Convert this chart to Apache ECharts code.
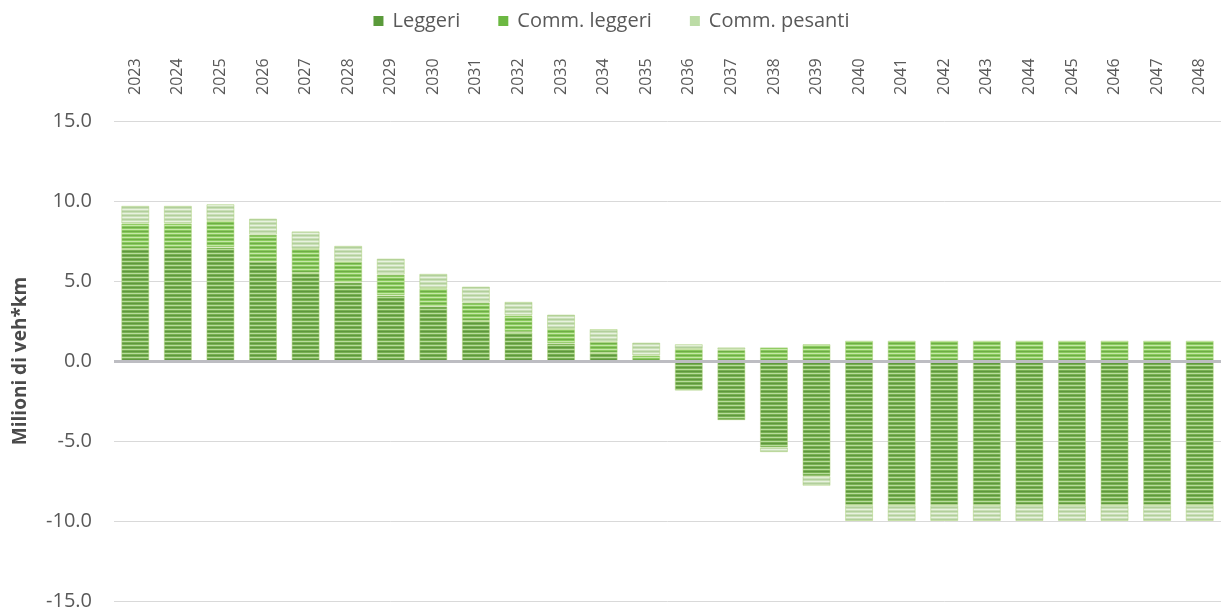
<!DOCTYPE html>
<html>
<head>
<meta charset="utf-8">
<script src="https://cdn.jsdelivr.net/npm/echarts@6/dist/echarts.min.js"></script>
<style>
  html, body { margin: 0; padding: 0; background: #ffffff; }
  #chart { width: 1223px; height: 613px; }
</style>
</head>
<body>
<div id="chart"></div>
<script>
// Years on the category axis
const years = ['2023','2024','2025','2026','2027','2028','2029','2030','2031','2032','2033','2034','2035',
               '2036','2037','2038','2039','2040','2041','2042','2043','2044','2045','2046','2047','2048'];

// Differences in vehicle-km (millions) by vehicle class
const leggeri = [7.0, 7.0, 7.1, 6.2, 5.5, 4.9, 4.1, 3.4, 2.5, 1.8, 1.1, 0.5, 0.0,
                 -1.85, -3.7, -5.4, -7.2, -9.0, -9.0, -9.0, -9.0, -9.0, -9.0, -9.0, -9.0, -9.0];
const commLeggeri = [1.6, 1.6, 1.65, 1.7, 1.5, 1.3, 1.3, 1.15, 1.15, 1.05, 0.9, 0.7, 0.35,
                     0.75, 0.7, 0.85, 1.05, 1.27, 1.27, 1.27, 1.27, 1.27, 1.27, 1.27, 1.27, 1.27];
const commPesanti = [1.1, 1.1, 1.05, 1.0, 1.1, 1.0, 1.0, 0.9, 1.0, 0.85, 0.9, 0.8, 0.8,
                     0.3, 0.15, -0.3, -0.6, -1.0, -1.0, -1.0, -1.0, -1.0, -1.0, -1.0, -1.0, -1.0];

// Value axis ticks
const yMin = -15, yMax = 15, yStep = 5;

// Horizontal-stripe fill used for the bars
function stripes(base, light, dark) {
  const c = document.createElement('canvas');
  c.width = 4; c.height = 4;
  const g = c.getContext('2d');
  g.fillStyle = base;  g.fillRect(0, 0, 4, 4);
  g.fillStyle = light; g.fillRect(0, 1, 4, 1);
  g.fillStyle = dark;  g.fillRect(0, 3, 4, 1);
  return { image: c, repeat: 'repeat' };
}

const FONT = '"Open Sans", "DejaVu Sans", sans-serif';
const TXT = '#595959';

const palette = [
  { name: 'Leggeri',       data: leggeri,     legend: '#5a9a3a', fill: stripes('#78b152', '#b8dc9c', '#5f973f') },
  { name: 'Comm. leggeri', data: commLeggeri, legend: '#6cb842', fill: stripes('#8acb5e', '#c6e8a8', '#6fad48') },
  { name: 'Comm. pesanti', data: commPesanti, legend: '#bcdca6', fill: stripes('#c9dfb7', '#e8f2df', '#b2cf9c') }
];

const series = palette.map((p, i) => {
  const s = {
    name: p.name,
    type: 'bar',
    stack: 'total',
    barWidth: 28,
    data: p.data,
    itemStyle: { color: p.fill, borderColor: 'rgba(170,210,120,0.5)', borderWidth: 1 },
    emphasis: { disabled: true }
  };
  if (i === 0) {
    s.markLine = {
      silent: true,
      symbol: 'none',
      label: { show: false },
      lineStyle: { color: '#bdbdc2', width: 3, type: 'solid' },
      data: [{ yAxis: 0 }]
    };
  }
  return s;
});

const chart = echarts.init(document.getElementById('chart'), null, { renderer: 'canvas' });
chart.setOption({
  animation: false,
  backgroundColor: '#ffffff',
  legend: {
    top: 6,
    left: 'center',
    itemWidth: 10,
    itemHeight: 10,
    itemGap: 38,
    icon: 'rect',
    textStyle: { fontFamily: FONT, fontSize: 20, color: TXT, padding: [0, 0, 0, 4] },
    data: palette.map(p => ({ name: p.name, itemStyle: { color: p.legend, borderWidth: 0 } }))
  },
  grid: { left: 114, right: 2, top: 121, bottom: 12 },
  xAxis: {
    type: 'category',
    position: 'top',
    data: years,
    axisLine: { show: false },
    axisTick: { show: false },
    axisLabel: { rotate: 90, margin: 26, fontFamily: FONT, fontSize: 16, color: TXT }
  },
  yAxis: {
    type: 'value',
    min: yMin,
    max: yMax,
    interval: yStep,
    name: 'Milioni di veh*km',
    nameLocation: 'middle',
    nameGap: 84,
    nameTextStyle: { fontFamily: FONT, fontSize: 19, fontWeight: 'bold', color: '#4a4a4a' },
    axisLine: { show: false },
    axisTick: { show: false },
    axisLabel: {
      margin: 22,
      fontFamily: FONT,
      fontSize: 20,
      color: TXT,
      formatter: v => v.toFixed(1)
    },
    splitLine: { lineStyle: { color: '#d9d9d9', width: 1 } }
  },
  series: series
});
</script>
</body>
</html>
